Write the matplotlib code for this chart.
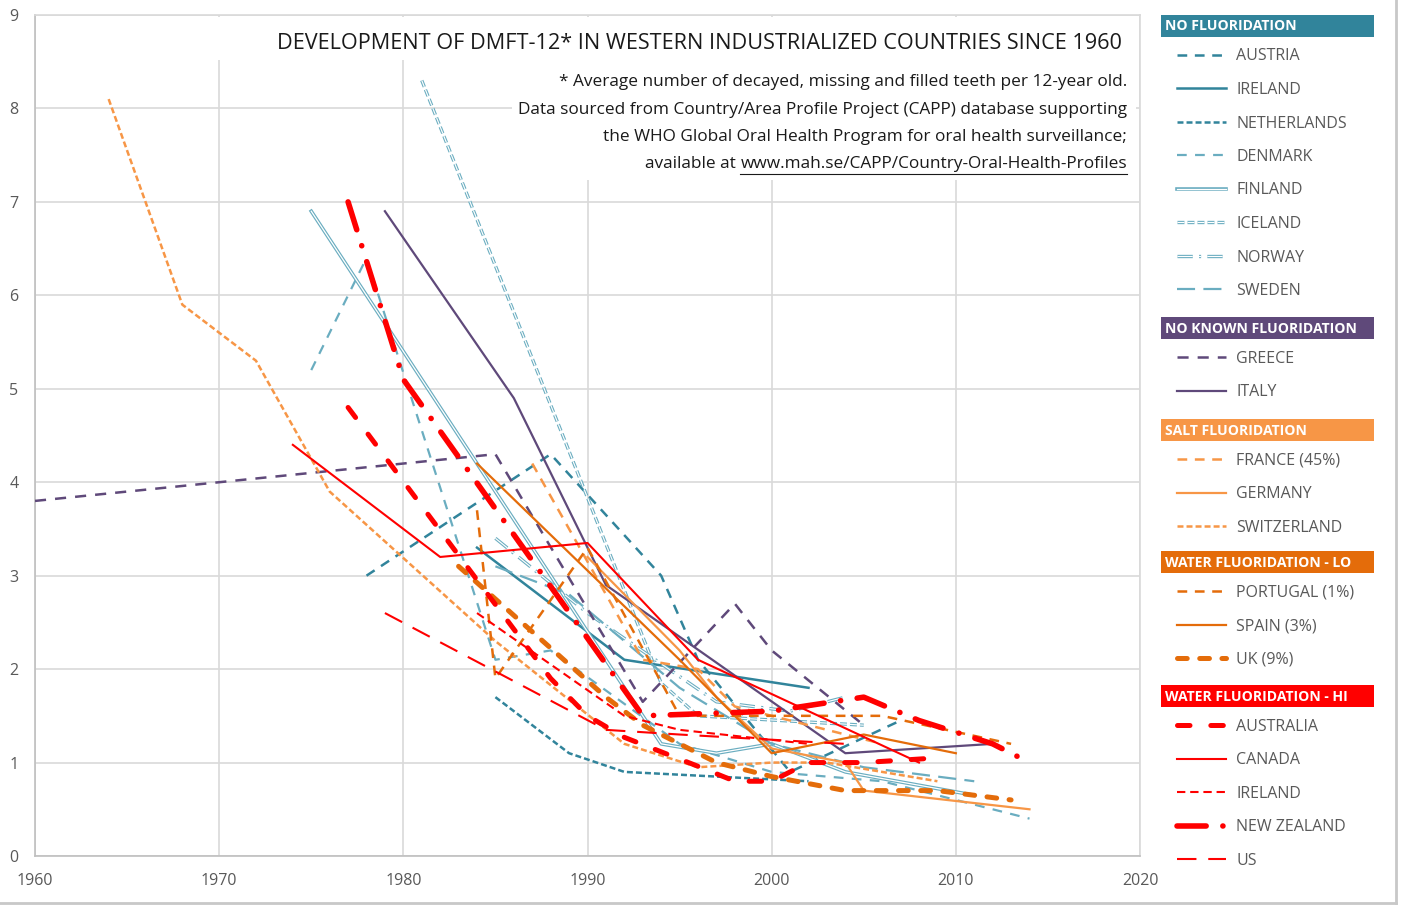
import matplotlib
matplotlib.use('Agg')
import matplotlib.pyplot as plt
from matplotlib.patches import Rectangle

plt.rcParams['font.family'] = ['Open Sans', 'DejaVu Sans']
plt.rcParams['lines.scale_dashes'] = False   # dash lengths in points

# ---- data (DMFT-12 per country) ----
austria_x = [1978, 1988, 1994, 1996, 2001, 2007]
austria_y = [3.0, 4.3, 3.0, 2.1, 0.9, 1.45]
ireland_nf_x = [1984, 1992, 2002]
ireland_nf_y = [3.3, 2.1, 1.8]
netherlands_x = [1985, 1989, 1992, 2002]
netherlands_y = [1.7, 1.1, 0.9, 0.8]
denmark_x = [1975, 1978, 1985, 1988, 1995, 2000, 2006, 2014]
denmark_y = [5.2, 6.4, 2.1, 2.2, 1.2, 0.9, 0.8, 0.4]
finland_x = [1975, 1994, 1997, 2000, 2004, 2011]
finland_y = [6.9, 1.2, 1.1, 1.2, 0.9, 0.65]
iceland_x = [1981, 1994, 1996, 2005]
iceland_y = [8.3, 1.85, 1.5, 1.4]
norway_x = [1985, 1990, 1997, 2001, 2004]
norway_y = [3.4, 2.6, 1.65, 1.55, 1.7]
sweden_x = [1985, 1989, 1995, 2000, 2005, 2011]
sweden_y = [3.1, 2.8, 1.8, 1.2, 0.95, 0.8]

greece_x = [1960, 1985, 1993, 1998, 2000, 2005]
greece_y = [3.8, 4.3, 1.65, 2.7, 2.2, 1.4]
italy_x = [1979, 1986, 1991, 2004, 2012]
italy_y = [6.9, 4.9, 2.9, 1.1, 1.2]

france_x = [1987, 1993, 1996, 1998, 2006]
france_y = [4.2, 2.1, 2.0, 1.6, 1.2]
germany_x = [1990, 1995, 1997, 2000, 2004, 2005, 2014]
germany_y = [3.2, 2.2, 1.7, 1.15, 1.0, 0.7, 0.5]
switzerland_x = [1964, 1968, 1972, 1976, 1985, 1992, 1996, 2000, 2003, 2009]
switzerland_y = [8.1, 5.9, 5.3, 3.9, 2.3, 1.2, 0.95, 1.0, 1.0, 0.8]

portugal_x = [1984, 1985, 1990, 1995, 2006, 2013]
portugal_y = [3.7, 1.9, 3.3, 1.5, 1.5, 1.2]
spain_x = [1984, 1995, 2000, 2005, 2010]
spain_y = [4.2, 2.1, 1.1, 1.3, 1.1]
uk_x = [1983, 1991, 1993, 1997, 2000, 2004, 2009, 2013]
uk_y = [3.1, 1.7, 1.4, 1.0, 0.85, 0.7, 0.7, 0.6]

australia_x = [1977, 1988, 1990, 1992, 1996, 1998, 2000, 2002, 2005, 2009]
australia_y = [4.8, 1.9, 1.5, 1.27, 0.96, 0.8, 0.8, 1.0, 1.0, 1.05]
canada_x = [1974, 1982, 1990, 1996, 2008]
canada_y = [4.4, 3.2, 3.35, 2.1, 1.0]
ireland_f_x = [1984, 1992, 1995, 2002]
ireland_f_y = [2.6, 1.5, 1.35, 1.2]
nz_x = [1977, 1980, 1993, 2000, 2005, 2008, 2012, 2014]
nz_y = [7.0, 5.1, 1.5, 1.55, 1.7, 1.45, 1.2, 1.0]
us_x = [1979, 1991, 1995, 2004]
us_y = [2.6, 1.35, 1.3, 1.2]

DARK_TEAL = '#31849B'
LIGHT_TEAL = '#6AADC0'
PURPLE = '#5F497A'
SALT = '#F79646'
LO = '#E46C0A'
HI = '#FF0000'
GRAY = '#595959'
INK = '#1A1A1A'

# style: color, linewidth(pt), dashes (pt) or None, hollow, capstyle
groups = [
    ('NO FLUORIDATION', DARK_TEAL, [
        ('AUSTRIA', austria_x, austria_y, (DARK_TEAL, 1.8, (7, 5.5), False, 'butt')),
        ('IRELAND', ireland_nf_x, ireland_nf_y, (DARK_TEAL, 1.8, None, False, 'butt')),
        ('NETHERLANDS', netherlands_x, netherlands_y, (DARK_TEAL, 1.8, (4.3, 2.2), False, 'butt')),
        ('DENMARK', denmark_x, denmark_y, (LIGHT_TEAL, 1.6, (7, 6), False, 'butt')),
        ('FINLAND', finland_x, finland_y, (LIGHT_TEAL, 2.6, None, True, 'butt')),
        ('ICELAND', iceland_x, iceland_y, (LIGHT_TEAL, 2.4, (5, 2.2), True, 'butt')),
        ('NORWAY', norway_x, norway_y, (LIGHT_TEAL, 2.4, (11, 4.5, 1.5, 4.5), True, 'butt')),
        ('SWEDEN', sweden_x, sweden_y, (LIGHT_TEAL, 1.6, (13, 6), False, 'butt')),
    ]),
    ('NO KNOWN FLUORIDATION', PURPLE, [
        ('GREECE', greece_x, greece_y, (PURPLE, 1.8, (8, 6.5), False, 'butt')),
        ('ITALY', italy_x, italy_y, (PURPLE, 1.6, None, False, 'butt')),
    ]),
    ('SALT FLUORIDATION', SALT, [
        ('FRANCE (45%)', france_x, france_y, (SALT, 1.8, (7, 5.5), False, 'butt')),
        ('GERMANY', germany_x, germany_y, (SALT, 1.6, None, False, 'butt')),
        ('SWITZERLAND', switzerland_x, switzerland_y, (SALT, 1.8, (4.3, 2.2), False, 'butt')),
    ]),
    ('WATER FLUORIDATION - LO', LO, [
        ('PORTUGAL (1%)', portugal_x, portugal_y, (LO, 1.8, (7, 5.5), False, 'butt')),
        ('SPAIN (3%)', spain_x, spain_y, (LO, 1.6, None, False, 'butt')),
        ('UK (9%)', uk_x, uk_y, (LO, 3.6, (7, 9), False, 'round')),
    ]),
    ('WATER FLUORIDATION - HI', HI, [
        ('AUSTRALIA', australia_x, australia_y, (HI, 3.6, (9, 15), False, 'round')),
        ('CANADA', canada_x, canada_y, (HI, 1.5, None, False, 'butt')),
        ('IRELAND', ireland_f_x, ireland_f_y, (HI, 1.5, (6, 3.5), False, 'butt')),
        ('NEW ZEALAND', nz_x, nz_y, (HI, 4.0, (21, 12, 0.1, 12), False, 'round')),
        ('US', us_x, us_y, (HI, 1.5, (14, 8.5), False, 'butt')),
    ]),
]


def draw(a, x, y, st):
    color, lw, dashes, hollow, cap = st
    ls = '-' if dashes is None else (0, dashes)
    a.plot(x, y, color=color, lw=lw, linestyle=ls, dash_capstyle=cap,
           solid_joinstyle='round', dash_joinstyle='round', zorder=3)
    if hollow:
        a.plot(x, y, color='white', lw=lw * 0.35, linestyle=ls, zorder=3)


fig = plt.figure(figsize=(14.02, 9.05), dpi=100)
ax = fig.add_axes([35 / 1402, 1 - 856 / 905, 1105 / 1402, 841 / 905])

for _, _, items in groups:
    for name, x, y, st in items:
        draw(ax, x, y, st)

ax.set_xlim(1960, 2020)
ax.set_ylim(0, 9)
ax.set_xticks(range(1960, 2021, 10))
ax.set_yticks(range(0, 10))
ax.set_axisbelow(True)
ax.grid(True, color='#D9D9D9', lw=1.2)
ax.tick_params(length=0, pad=12, labelsize=11.5, labelcolor=GRAY)
for s in ['top', 'right']:
    ax.spines[s].set_color('#D9D9D9')
    ax.spines[s].set_linewidth(1.2)
for s in ['left', 'bottom']:
    ax.spines[s].set_color('#BFBFBF')
    ax.spines[s].set_linewidth(1.2)

# white boxes behind title and note
ax.add_patch(Rectangle((0.104, 0.9465), 0.892, 0.051, transform=ax.transAxes,
                       facecolor='white', edgecolor='none', zorder=1))
ax.add_patch(Rectangle((0.4317, 0.8038), 0.5647, 0.1430, transform=ax.transAxes,
                       facecolor='white', edgecolor='none', zorder=1))

fig.text(1122 / 1402, 1 - 43.5 / 905,
         'DEVELOPMENT OF DMFT-12* IN WESTERN INDUSTRIALIZED COUNTRIES SINCE 1960',
         ha='right', va='center', fontsize=15.6, color=INK)
notes = ['* Average number of decayed, missing and filled teeth per 12-year old.',
         'Data sourced from Country/Area Profile Project (CAPP) database supporting',
         'the WHO Global Oral Health Program for oral health surveillance;']
for i, line in enumerate(notes):
    fig.text(1127 / 1402, 1 - (82 + 27.5 * i) / 905, line, ha='right', va='center',
             fontsize=12.45, color=INK)
url = fig.text(1127 / 1402, 1 - 164.5 / 905, 'www.mah.se/CAPP/Country-Oral-Health-Profiles',
               ha='right', va='center', fontsize=12.45, color=INK)
renderer = fig.canvas.get_renderer()
bb = url.get_window_extent(renderer)
fig.text(bb.x0 / 1402, 1 - 164.5 / 905, 'available at ', ha='right', va='center',
         fontsize=12.45, color=INK)

# overlay axes in pixel units for legend panel and frame
lax = fig.add_axes([0, 0, 1, 1])
lax.set_xlim(0, 1402)
lax.set_ylim(905, 0)
lax.axis('off')
lax.patch.set_alpha(0)
uy = 905 - bb.y0 + 2
lax.plot([bb.x0, bb.x1], [uy, uy], color=INK, lw=0.8)

header_tops = [15, 317, 419, 551, 685]
entry_step = 33.5
for (title, hcolor, items), top in zip(groups, header_tops):
    lax.add_patch(Rectangle((1161, top), 213, 22, facecolor=hcolor, edgecolor='none'))
    lax.text(1165, top + 11.5, title, ha='left', va='center', color='white',
             fontsize=10.1, fontweight='bold')
    for k, (name, x, y, st) in enumerate(items):
        yy = top + 40 + entry_step * k
        draw(lax, [1177, 1226], [yy, yy], st)
        lax.text(1236, yy + 1.5, name, ha='left', va='center', fontsize=11.5, color=GRAY)

lax.plot([1396, 1396], [0, 903], color='#C8C8C8', lw=2)
lax.plot([0, 1396], [903, 903], color='#C8C8C8', lw=2)

fig.savefig('out.png', dpi=100)
